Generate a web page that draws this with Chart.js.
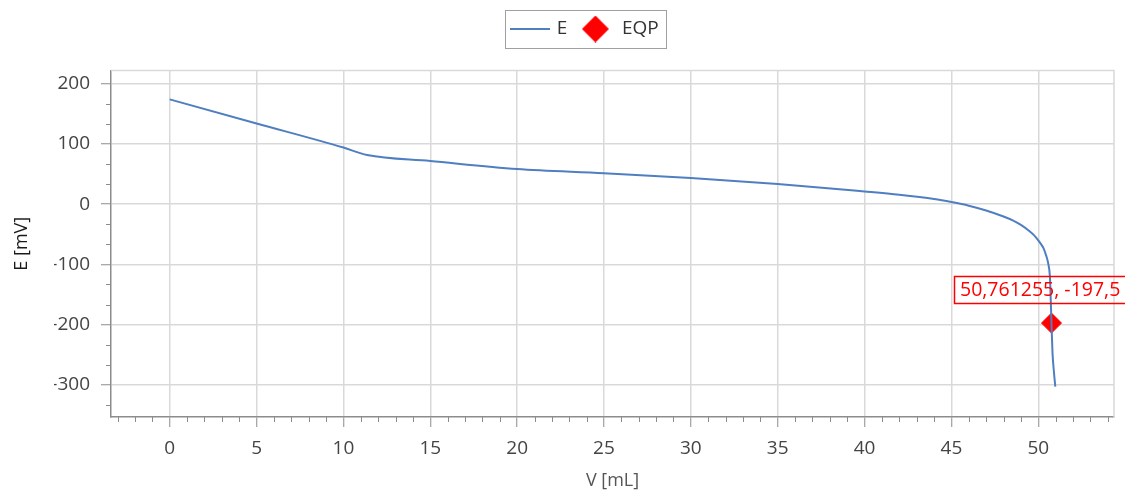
<!DOCTYPE html>
<html>
<head>
<meta charset="utf-8">
<script src="https://cdn.jsdelivr.net/npm/chart.js@4/dist/chart.umd.min.js"></script>
<style>
  html, body { margin: 0; padding: 0; background: #fff; }
  #wrap { width: 1125px; height: 492px; }
</style>
</head>
<body>
<div id="wrap"><canvas id="chart" width="1125" height="492"></canvas></div>
<script>
// Titration curve: volume added (mL) vs potential (mV)
const volumes    = [0, 5, 10, 11.36, 15, 20, 25, 30, 35, 40, 42, 44, 45, 46, 47, 48, 48.5, 49, 49.5, 49.75, 50, 50.15, 50.3, 50.45, 50.57, 50.67, 50.7, 50.76, 50.82, 50.9, 50.98];
const potentials = [174, 134, 94, 81.6, 71.7, 58.4, 51.5, 43.5, 33.6, 21, 15.5, 8.5, 3.5, -2.5, -10.5, -20.5, -26.5, -34.5, -45, -51.5, -60, -66, -73, -85, -98, -120, -142, -197.5, -247, -278, -303];

// Equivalence point
const eqpVolume    = [50.761255];
const eqpPotential = [-197.5];

// Axes
const xRange = [-3.38, 54.36];
const yRange = [-353.5, 222];
const xMajorStep = 5, xMinorStep = 1;
const yMajorStep = 100, yMinorStep = 100 / 3;

const FONT = '"Open Sans", "Noto Sans", sans-serif';
const LINE_COLOR = '#4f7fc1';
const EQP_COLOR = '#ff0000';
const GRID_COLOR = '#d9d9d9';
const AXIS_COLOR = '#8c8c8c';
const TEXT_COLOR = '#444444';
const LEGEND_HEIGHT = 62;

// small canvases used as legend symbols
function makeIcon(w, h, draw) {
  const c = document.createElement('canvas');
  c.width = w; c.height = h;
  draw(c.getContext('2d'), w, h);
  return c;
}
const lineIcon = makeIcon(40, 4, function(g, w, h) {
  g.strokeStyle = LINE_COLOR; g.lineWidth = 2;
  g.beginPath(); g.moveTo(0, h / 2); g.lineTo(w, h / 2); g.stroke();
});
const diamondIcon = makeIcon(27, 27, function(g, w, h) {
  g.fillStyle = EQP_COLOR;
  g.beginPath(); g.moveTo(w / 2, 0); g.lineTo(w, h / 2); g.lineTo(w / 2, h); g.lineTo(0, h / 2); g.closePath(); g.fill();
});

const fmt = v => String(v).replace('.', ',');

// frame, minor ticks, legend box and point label
const decorPlugin = {
  id: 'decor',
  afterInit(chart) {
    // keep the legend band a fixed height so the plot starts where it should
    const legend = chart.legend;
    const fit = legend.fit;
    legend.fit = function() { fit.call(this); this.height = LEGEND_HEIGHT; };
  },
  beforeDatasetsDraw(chart) {
    const {ctx, chartArea: a, scales: {x, y}} = chart;
    ctx.save();
    ctx.strokeStyle = GRID_COLOR;
    ctx.lineWidth = 1.5;
    ctx.beginPath();
    ctx.moveTo(a.left, a.top); ctx.lineTo(a.right, a.top); ctx.lineTo(a.right, a.bottom);
    ctx.stroke();

    ctx.strokeStyle = AXIS_COLOR;
    ctx.lineWidth = 1;
    ctx.beginPath();
    for (let k = Math.ceil(x.min / xMinorStep); k * xMinorStep <= x.max; k++) {
      const v = k * xMinorStep;
      if (Math.abs(v % xMajorStep) < 1e-6) continue;
      const px = Math.round(x.getPixelForValue(v)) + 0.5;
      ctx.moveTo(px, a.bottom); ctx.lineTo(px, a.bottom + 5);
    }
    for (let k = Math.ceil(y.min / yMinorStep); k * yMinorStep <= y.max; k++) {
      if (k % 3 === 0) continue;
      const py = Math.round(y.getPixelForValue(k * yMinorStep)) + 0.5;
      ctx.moveTo(a.left - 5, py); ctx.lineTo(a.left, py);
    }
    ctx.stroke();
    ctx.restore();
  },
  afterDraw(chart) {
    const ctx = chart.ctx;
    ctx.save();
    // legend frame
    const boxes = chart.legend.legendHitBoxes;
    if (boxes && boxes.length) {
      const first = boxes[0], last = boxes[boxes.length - 1];
      const cy = first.top + first.height / 2;
      const l = first.left - 8, r = last.left + last.width + 8;
      ctx.strokeStyle = '#a0a0a0';
      ctx.lineWidth = 1;
      ctx.strokeRect(Math.round(l) + 0.5, Math.round(cy - 19) + 0.5, Math.round(r - l), 38);
    }
    // equivalence point label
    const pt = chart.getDatasetMeta(1).data[0];
    const text = fmt(eqpVolume[0]) + ', ' + fmt(eqpPotential[0]);
    ctx.font = '19.5px ' + FONT;
    const tw = ctx.measureText(text).width;
    const left = Math.round(pt.x - 97), bottom = Math.round(pt.y - 20), h = 27;
    ctx.strokeStyle = EQP_COLOR;
    ctx.lineWidth = 1.5;
    ctx.strokeRect(left + 0.5, bottom - h + 0.5, tw + 12, h);
    ctx.fillStyle = EQP_COLOR;
    ctx.textBaseline = 'middle';
    ctx.textAlign = 'left';
    ctx.fillText(text, left + 6, bottom - h / 2 + 1);
    ctx.restore();
  }
};

Chart.defaults.font.family = FONT;

new Chart(document.getElementById('chart'), {
  type: 'scatter',
  data: {
    datasets: [
      {
        label: 'E',
        data: volumes.map((v, i) => ({x: v, y: potentials[i]})),
        showLine: true,
        borderColor: LINE_COLOR,
        borderWidth: 2,
        pointRadius: 0,
        cubicInterpolationMode: 'monotone',
        fill: false
      },
      {
        label: 'EQP',
        data: eqpVolume.map((v, i) => ({x: v, y: eqpPotential[i]})),
        pointStyle: 'rectRot',
        pointRadius: 10,
        backgroundColor: EQP_COLOR,
        borderColor: EQP_COLOR,
        borderWidth: 1
      }
    ]
  },
  options: {
    responsive: false,
    animation: false,
    events: [],
    layout: { padding: { top: 8.5, left: 54, right: 7, bottom: 0 } },
    plugins: {
      tooltip: { enabled: false },
      legend: {
        position: 'top',
        labels: {
          usePointStyle: true,
          pointStyleWidth: 34,
          padding: 11,
          color: '#333333',
          font: { size: 19, family: FONT },
          generateLabels: function() {
            return [
              { text: 'E', pointStyle: lineIcon, fontColor: '#333333', lineWidth: 0, datasetIndex: 0 },
              { text: 'EQP', pointStyle: diamondIcon, fontColor: '#333333', lineWidth: 0, datasetIndex: 1 }
            ];
          }
        }
      }
    },
    scales: {
      x: {
        type: 'linear',
        min: xRange[0],
        max: xRange[1],
        afterFit: function(s) { s.height = 75; },
        border: { color: AXIS_COLOR, width: 1.5 },
        grid: { color: GRID_COLOR, lineWidth: 1.5, tickLength: 10, tickColor: AXIS_COLOR, tickWidth: 1 },
        ticks: { stepSize: xMajorStep, includeBounds: false, padding: 10, color: TEXT_COLOR, font: { size: 19 }, maxRotation: 0 },
        title: { display: true, text: 'V [mL]', color: '#555555', font: { size: 18 }, padding: { top: 0, bottom: 0 } }
      },
      y: {
        type: 'linear',
        min: yRange[0],
        max: yRange[1],
        afterFit: function(s) { s.width = 57; },
        border: { color: AXIS_COLOR, width: 1.5 },
        grid: { color: GRID_COLOR, lineWidth: 1.5, tickLength: 10, tickColor: AXIS_COLOR, tickWidth: 1 },
        ticks: { stepSize: yMajorStep, includeBounds: false, padding: 11, color: TEXT_COLOR, font: { size: 19 } },
        title: { display: true, text: 'E [mV]', color: '#1a1a1a', font: { size: 18 }, padding: { top: -43, bottom: 0 } }
      }
    }
  },
  plugins: [decorPlugin]
});
</script>
</body>
</html>
